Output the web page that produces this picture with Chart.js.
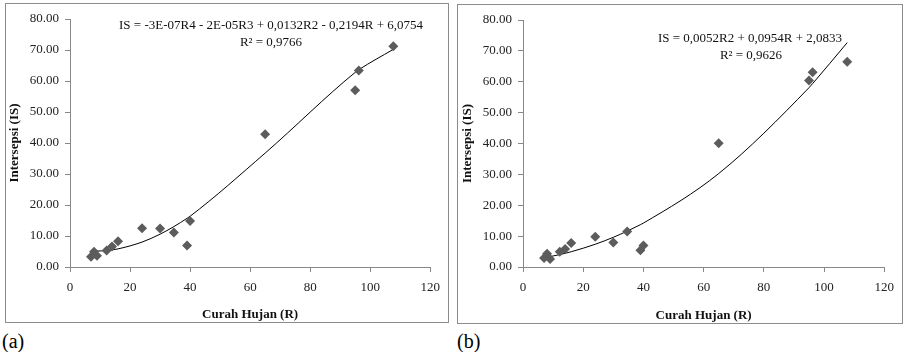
<!DOCTYPE html>
<html><head><meta charset="utf-8">
<script src="https://cdn.jsdelivr.net/npm/chart.js@4"></script>
<style>
body{margin:0;background:#fff;width:906px;height:352px;position:relative;overflow:hidden;font-family:"Liberation Serif","Times New Roman",Times,serif;}
.panel{position:absolute;border:1px solid #8c8c8c;box-sizing:border-box;background:#fff;}
.panel canvas{position:absolute;left:0;top:0;}
.txt{position:absolute;font-size:13px;color:#111;white-space:nowrap;line-height:16px;transform:translateX(-50%);}
.lab{position:absolute;font-size:20px;line-height:20px;color:#000;}
</style></head>
<body>
<div class="panel" id="pa" style="left:5px;top:3px;width:444px;height:320px;"><canvas id="ca" width="442" height="318"></canvas></div>
<div class="panel" id="pb" style="left:457px;top:4px;width:446px;height:320px;"><canvas id="cb" width="444" height="318"></canvas></div>
<div class="txt" style="left:271px;top:17px;">IS = -3E-07R4 - 2E-05R3 + 0,0132R2 - 0,2194R + 6,0754</div>
<div class="txt" style="left:271px;top:34px;">R² = 0,9766</div>
<div class="txt" style="left:750px;top:30px;">IS = 0,0052R2 + 0,0954R + 2,0833</div>
<div class="txt" style="left:751px;top:47px;">R² = 0,9626</div>
<div class="lab" style="left:2px;top:331px;">(a)</div>
<div class="lab" style="left:457px;top:331px;">(b)</div>
<script>
// Data
const rainfall   = [7.0, 8.0, 9.0, 12.2, 14.0, 16.0, 24.0, 30.0, 34.6, 39.0, 40.0, 65.0, 95.0, 96.2, 107.7];
const interceptA = [3.3, 4.9, 3.6, 5.3, 6.6, 8.3, 12.5, 12.4, 11.1, 6.9, 14.8, 42.8, 57.0, 63.4, 71.2];
const interceptB = [2.9, 4.3, 2.6, 4.9, 5.8, 7.8, 9.8, 7.9, 11.5, 5.4, 7.0, 40.1, 60.4, 63.1, 66.5];
// Trendline coefficients as printed on the chart (constant, R, R2, R3, R4)
const polyA = [6.0754, -0.2194, 0.0132, -2e-5, -3e-7];
const polyB = [2.0833, 0.0954, 0.0052];
const yTicks = [0, 10, 20, 30, 40, 50, 60, 70, 80];
const xTicks = [0, 20, 40, 60, 80, 100, 120];

const FAMILY = '"Liberation Serif", "Times New Roman", Times, serif';
Chart.defaults.font.family = FAMILY;
Chart.defaults.font.size = 13;
Chart.defaults.color = '#222';

function evalPoly(c, r){ let s = 0; for (let i = c.length - 1; i >= 0; i--) s = s * r + c[i]; return s; }

function makeChart(id, ys, coeffs, d){
  const pts = rainfall.map((r, i) => ({x: r, y: ys[i]}));
  const trend = rainfall.map(r => ({x: r, y: evalPoly(coeffs, r)}));
  new Chart(document.getElementById(id), {
    type: 'scatter',
    data: { datasets: [
      { data: trend, showLine: true, borderColor: '#000', borderWidth: 1, pointRadius: 0,
        cubicInterpolationMode: 'monotone', order: 2 },
      { data: pts, pointStyle: 'rectRot', pointRadius: 5, pointHoverRadius: 5,
        backgroundColor: '#5c5c5c', borderColor: '#5c5c5c', borderWidth: 0, order: 1 }
    ]},
    options: {
      responsive: false, animation: false,
      layout: { padding: { top: d.top, right: d.right, left: 0, bottom: 0 } },
      plugins: { legend: { display: false }, tooltip: { enabled: false } },
      scales: {
        x: {
          type: 'linear', min: 0, max: 120,
          afterBuildTicks: s => { s.ticks = xTicks.map(v => ({value: v})); },
          afterFit: s => { s.height = d.xh; },
          grid: { drawOnChartArea: false, tickLength: 5, color: '#888' },
          border: { color: '#888' },
          ticks: { padding: 8, color: '#222', font: { family: FAMILY, size: 13 } },
          title: { display: true, text: 'Curah Hujan (R)', color: '#111',
                   font: { family: FAMILY, size: 13, weight: 'bold' }, padding: { top: 0, bottom: 0 } }
        },
        y: {
          type: 'linear', min: 0, max: 80,
          afterBuildTicks: s => { s.ticks = yTicks.map(v => ({value: v})); },
          afterFit: s => { s.width = d.left; },
          grid: { drawOnChartArea: false, tickLength: 5, color: '#888' },
          border: { color: '#888' },
          ticks: { padding: 6, color: '#222', font: { family: FAMILY, size: 13 }, callback: v => Number(v).toFixed(2) },
          title: { display: true, text: 'Intersepsi (IS)', color: '#111',
                   font: { family: FAMILY, size: 13, weight: 'bold' }, padding: { top: d.tp, bottom: 0 } }
        }
      }
    }
  });
}

function draw(){
  makeChart('ca', interceptA, polyA, { left: 64, right: 16, top: 15, xh: 55, tp: 1 });
  makeChart('cb', interceptB, polyB, { left: 65, right: 16, top: 15, xh: 56, tp: 2 });
}
Promise.all([
  document.fonts.load('13px "Liberation Serif"'),
  document.fonts.load('bold 13px "Liberation Serif"')
]).then(draw, draw);
</script>
</body></html>
